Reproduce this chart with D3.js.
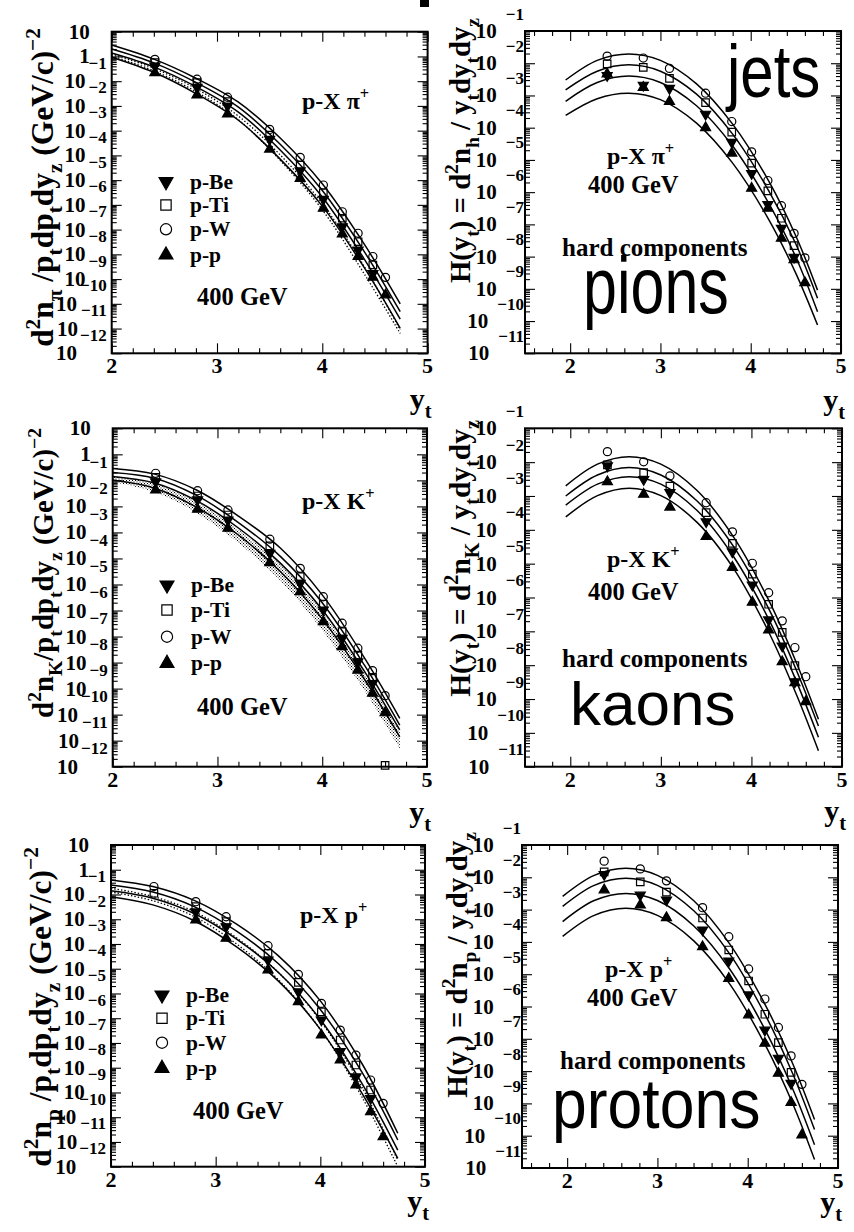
<!DOCTYPE html>
<html>
<head>
<meta charset="utf-8">
<script src="https://cdn.jsdelivr.net/npm/d3@7"></script>
<style>
  body { margin: 0; background: #fff; }
  text { font-family: "Liberation Serif", "Times New Roman", serif; font-weight: bold; fill: #000; }
  text.big { font-family: "Liberation Sans", Arial, sans-serif; font-weight: normal; }
</style>
</head>
<body>
<div id="chart"></div>
<script>
// y_t positions of the measured points (same in every panel)
const ytPoints = [2.41, 2.81, 3.10, 3.50, 3.79, 4.01, 4.19, 4.34, 4.48, 4.60]
const ytCurveLeft = [2.0, 2.4, 2.8, 3.2, 3.6, 4.0, 4.4, 4.74]
const ytCurveRight = [1.95, 2.3, 2.65, 3.0, 3.4, 3.8, 4.2, 4.5, 4.74]

const targetNames = ['p-Be', 'p-Ti', 'p-W', 'p-p']
const targetKeys = ['Be', 'Ti', 'W', 'p']
const xTickLabels = [2, 3, 4, 5]

// all values are log10 of the plotted quantity, null = no marker
// pions, spectra (left)
const pionSpecW = [-0.12, -0.92, -1.65, -2.95, -4.08, -5.20, -6.28, -7.15, -8.09, -8.93]
const pionSpecTi = [-0.25, -1.06, -1.83, -3.18, -4.39, -5.51, -6.54, -7.49, -8.43, null]
const pionSpecBe = [-0.39, -1.25, -2.00, -3.35, -4.62, -5.77, -6.88, -7.82, -8.77, null]
const pionSpecPP = [-0.66, -1.56, -2.33, -3.75, -4.93, -6.14, -7.18, -8.09, -8.93, -9.64]
const pionFitW = [0.46, -0.11, -0.88, -1.84, -3.30, -5.15, -7.60, -10.00]
const pionFitTi = [0.30, -0.26, -1.05, -2.04, -3.55, -5.42, -7.90, -10.32]
const pionFitBe = [0.14, -0.42, -1.22, -2.24, -3.78, -5.68, -8.20, -10.62]
const pionFitPP = [-0.03, -0.64, -1.50, -2.57, -4.15, -6.05, -8.55, -10.99]
const pionDot1 = [0.10, -0.48, -1.30, -2.40, -3.98, -5.95, -8.50, -11.05]
const pionDot2 = [0.02, -0.58, -1.42, -2.55, -4.20, -6.20, -8.80, -11.20]
// pions, hard components (right)
const pionHardW = [-1.78, -1.84, -2.16, -2.93, -3.81, -4.75, -5.64, -6.42, -7.28, -8.04]
const pionHardTi = [-2.02, -2.13, -2.47, -3.22, -4.14, -5.10, -5.96, -6.81, -7.66, null]
const pionHardBe = [-2.38, -2.68, -2.78, -3.58, -4.45, -5.42, -6.38, -7.12, -8.02, null]
const pionHardPP = [-2.33, -2.75, -3.19, -4.00, -4.79, -5.88, -6.50, -7.43, -8.10, -8.81]
const pionHardFitW = [-2.52, -1.91, -1.71, -1.91, -2.64, -3.89, -5.66, -7.36, -9.04]
const pionHardFitTi = [-2.83, -2.25, -2.05, -2.25, -2.96, -4.20, -5.96, -7.61, -9.29]
const pionHardFitBe = [-3.18, -2.60, -2.40, -2.60, -3.32, -4.57, -6.35, -8.02, -9.71]
const pionHardFitPP = [-3.62, -3.10, -2.93, -3.13, -3.86, -5.10, -6.85, -8.52, -10.12]

// kaons, spectra (left)
const kaonSpecW = [-0.73, -1.40, -2.14, -3.26, -4.38, -5.47, -6.49, -7.45, -8.31, -9.27]
const kaonSpecTi = [-0.88, -1.60, -2.33, -3.52, -4.70, -5.75, -6.81, -7.71, -8.57, -11.95]
const kaonSpecBe = [-1.05, -1.75, -2.52, -3.80, -4.95, -5.98, -7.07, -7.97, -8.80, null]
const kaonSpecPP = [-1.37, -2.11, -2.84, -4.16, -5.28, -6.43, -7.39, -8.29, -9.18, -9.93]
const kaonFitW = [-0.54, -0.76, -1.37, -2.37, -3.60, -5.40, -7.80, -10.14]
const kaonFitTi = [-0.70, -0.92, -1.58, -2.62, -3.92, -5.70, -8.08, -10.40]
const kaonFitBe = [-0.85, -1.10, -1.78, -2.83, -4.18, -5.97, -8.32, -10.59]
const kaonFitPP = [-0.99, -1.30, -2.03, -3.10, -4.50, -6.32, -8.62, -10.85]
const kaonBandTop = [-0.85, -1.12, -1.82, -2.90, -4.25, -6.05, -8.40, -10.65]
const kaonBandLow = [-1.05, -1.45, -2.25, -3.40, -4.85, -6.75, -9.05, -11.30]
// kaons, hard components (right)
const kaonHardW = [-1.69, -1.99, -2.41, -3.20, -4.06, -4.99, -5.86, -6.69, -7.48, -8.34]
const kaonHardTi = [-2.08, -2.31, -2.71, -3.49, -4.40, -5.31, -6.20, -7.03, -8.01, null]
const kaonHardBe = [-2.11, -2.51, -2.90, -3.76, -4.65, -5.63, -6.66, -7.43, -8.49, null]
const kaonHardPP = [-2.58, -2.95, -3.33, -4.20, -5.11, -6.14, -6.96, -7.90, -8.52, -9.08]
const kaonHardFitW = [-2.70, -2.06, -1.84, -2.06, -2.84, -4.20, -6.13, -7.95, -9.60]
const kaonHardFitTi = [-3.00, -2.38, -2.16, -2.38, -3.15, -4.48, -6.38, -8.17, -9.80]
const kaonHardFitBe = [-3.27, -2.65, -2.43, -2.65, -3.43, -4.78, -6.69, -8.50, -10.13]
const kaonHardFitPP = [-3.62, -2.99, -2.77, -2.99, -3.78, -5.13, -7.07, -8.89, -10.53]

// protons, spectra (left)
const protSpecW = [-0.68, -1.29, -1.90, -3.07, -4.23, -5.40, -6.48, -7.49, -8.50, -9.44]
const protSpecTi = [-0.95, -1.49, -2.10, -3.38, -4.55, -5.74, -6.88, -7.89, -8.90, null]
const protSpecBe = [null, -1.70, -2.30, -3.65, -4.93, -6.07, -7.35, -8.37, -9.24, null]
const protSpecPP = [null, -2.03, -2.77, -4.05, -5.33, -6.68, -7.69, -8.70, -9.78, -10.79]
const protFitW = [-0.41, -0.68, -1.25, -2.20, -3.48, -5.30, -7.85, -10.65]
const protFitTi = [-0.62, -0.90, -1.50, -2.48, -3.80, -5.65, -8.20, -10.92]
const protFitBe = [-0.85, -1.15, -1.78, -2.80, -4.15, -6.05, -8.65, -11.33]
const protFitPP = [-1.09, -1.42, -2.07, -3.12, -4.50, -6.45, -9.05, -11.66]
const protDot1 = [-0.75, -1.08, -1.70, -2.75, -4.15, -6.10, -8.80, -11.75]
const protDot2 = [-0.90, -1.25, -1.90, -3.00, -4.45, -6.45, -9.20, -12.00]
// protons, hard components (right)
const protHardW = [-1.50, -1.74, -2.11, -2.94, -3.84, -4.84, -5.77, -6.65, -7.53, -8.41]
const protHardTi = [-1.83, -2.14, -2.46, -3.26, -4.25, -5.21, -6.24, -7.12, -8.04, null]
const protHardBe = [-1.91, -2.55, -2.70, -3.63, -4.59, -5.64, -6.73, -7.60, -8.38, null]
const protHardPP = [-2.39, -2.86, -3.25, -4.15, -5.13, -6.26, -7.14, -8.07, -8.97, -9.98]
const protHardFitW = [-2.59, -1.94, -1.72, -1.94, -2.72, -4.06, -5.98, -7.78, -9.50]
const protHardFitTi = [-2.90, -2.25, -2.03, -2.25, -3.03, -4.37, -6.29, -8.09, -9.81]
const protHardFitBe = [-3.37, -2.72, -2.50, -2.72, -3.50, -4.84, -6.76, -8.56, -10.28]
const protHardFitPP = [-3.83, -3.18, -2.96, -3.18, -3.96, -5.30, -7.22, -9.02, -10.74]

// texts ([string, '' | 'sup' | 'sub'])
const titleSpec = h => [['d', ''], ['2', 'sup'], ['n', ''], [h, 'sub'], [h === 'K' ? '/p' : ' /p', ''], ['t', 'sub'],
  ['dp', ''], ['t', 'sub'], ['dy', ''], ['z', 'sub'], [' (GeV/c)', ''], ['\u22122', 'sup']]
const titleHard = h => [['H(y', ''], ['t', 'sub'], [') = d', ''], ['2', 'sup'], ['n', ''], [h, 'sub'], [' / y', ''],
  ['t', 'sub'], ['dy', ''], ['t', 'sub'], ['dy', ''], ['z', 'sub']]
const reaction = h => [['p-X ' + h, ''], ['+', 'sup']]
const beamLabel = '400 GeV'
const hardLabel = 'hard components'

const svg = d3.select('#chart').append('svg').attr('width', 854).attr('height', 1232)
svg.append('rect').attr('width', 854).attr('height', 1232).attr('fill', '#fff')
const pat = svg.append('defs').append('pattern').attr('id', 'dots')
  .attr('width', 3).attr('height', 3).attr('patternUnits', 'userSpaceOnUse')
pat.append('rect').attr('width', 1).attr('height', 1).attr('fill', '#000')
pat.append('rect').attr('x', 1.5).attr('y', 1.5).attr('width', 1).attr('height', 1).attr('fill', '#000')

// stray mark at the top of the picture
svg.append('rect').attr('x', 420).attr('y', 0).attr('width', 9).attr('height', 7).attr('fill', '#000')

const panels = [
  { frame: [111.7, 427.6, 31.7, 353.3], xdom: [2, 5], dec: [1, -12], side: 'left', ytY: 409,
    series: { Be: pionSpecBe, Ti: pionSpecTi, W: pionSpecW, p: pionSpecPP },
    fits: [pionFitW, pionFitTi, pionFitBe, pionFitPP], dotted: [pionDot1, pionDot2],
    title: titleSpec('\u03c0'), titlePos: [53, 28, 319],
    notes: [{ parts: reaction('\u03c0'), x: 302, y: 109, fs: 24 }, { parts: [[beamLabel, '']], x: 197, y: 305, fs: 24.5 }],
    legend: { x: 166, rows: [181.7, 205, 229.3, 255] } },
  { frame: [525, 841, 31, 353.3], xdom: [1.5, 5], dec: [-1, -11], side: 'right', ytY: 410,
    series: { Be: pionHardBe, Ti: pionHardTi, W: pionHardW, p: pionHardPP },
    fits: [pionHardFitW, pionHardFitTi, pionHardFitBe, pionHardFitPP],
    title: titleHard('h'), titlePos: [470, 18, 265],
    notes: [{ parts: reaction('\u03c0'), x: 607, y: 164, fs: 24 }, { parts: [[beamLabel, '']], x: 588, y: 193, fs: 24.5 },
      { parts: [[hardLabel, '']], x: 562, y: 256, fs: 25 }],
    big: [{ text: 'jets', x: 727, y: 97, fs: 60, sy: 1.25 }, { text: 'pions', x: 583, y: 313, fs: 61, sy: 1.3 }] },
  { frame: [112.7, 427, 428.3, 766.7], xdom: [2, 5], dec: [1, -12], side: 'left', ytY: 822,
    series: { Be: kaonSpecBe, Ti: kaonSpecTi, W: kaonSpecW, p: kaonSpecPP },
    fits: [kaonFitW, kaonFitTi, kaonFitBe, kaonFitPP], band: [kaonBandTop, kaonBandLow],
    title: titleSpec('K'), titlePos: [53, 428, 290],
    notes: [{ parts: reaction('K'), x: 302, y: 509, fs: 24 }, { parts: [[beamLabel, '']], x: 197, y: 715, fs: 24.5 }],
    legend: { x: 167, rows: [585, 610, 636.7, 663.3] } },
  { frame: [525, 842, 428.3, 766.7], xdom: [1.5, 5], dec: [-1, -11], side: 'right', ytY: 821,
    series: { Be: kaonHardBe, Ti: kaonHardTi, W: kaonHardW, p: kaonHardPP },
    fits: [kaonHardFitW, kaonHardFitTi, kaonHardFitBe, kaonHardFitPP],
    title: titleHard('K'), titlePos: [470, 420, 277],
    notes: [{ parts: reaction('K'), x: 607, y: 567, fs: 24 }, { parts: [[beamLabel, '']], x: 588, y: 600, fs: 24.5 },
      { parts: [[hardLabel, '']], x: 562, y: 667, fs: 25 }],
    big: [{ text: 'kaons', x: 570, y: 725, fs: 62, sy: 1.0 }] },
  { frame: [111, 425, 845, 1166.7], xdom: [2, 5], dec: [1, -12], side: 'left', ytY: 1211,
    series: { Be: protSpecBe, Ti: protSpecTi, W: protSpecW, p: protSpecPP },
    fits: [protFitW, protFitTi, protFitBe, protFitPP], dotted: [protDot1, protDot2],
    title: titleSpec('p'), titlePos: [51, 847, 320],
    notes: [{ parts: reaction('p'), x: 300, y: 923, fs: 24 }, { parts: [[beamLabel, '']], x: 193, y: 1119, fs: 24.5 }],
    legend: { x: 162, rows: [995, 1018.3, 1042.7, 1068.3] } },
  { frame: [522, 838, 845, 1168], xdom: [1.5, 5], dec: [-1, -11], side: 'right', ytY: 1212,
    series: { Be: protHardBe, Ti: protHardTi, W: protHardW, p: protHardPP },
    fits: [protHardFitW, protHardFitTi, protHardFitBe, protHardFitPP],
    title: titleHard('p'), titlePos: [467, 832, 266],
    notes: [{ parts: reaction('p'), x: 605, y: 977, fs: 24 }, { parts: [[beamLabel, '']], x: 587, y: 1006, fs: 24.5 },
      { parts: [[hardLabel, '']], x: 560, y: 1069, fs: 25 }],
    big: [{ text: 'protons', x: 552, y: 1128, fs: 62.5, sy: 1.12 }] }
]

// text with super/subscripts
function rich(sel, parts, fs) {
  let shift = 0
  parts.forEach(([s, m]) => {
    const target = m === 'sup' ? -0.42 * fs : m === 'sub' ? 0.3 * fs : 0
    sel.append('tspan').attr('dy', target - shift).attr('font-size', m ? fs * 0.68 : fs).text(s)
    shift = target
  })
  return sel
}

function markerPath(key, k) {
  if (key === 'W') return d3.symbol(d3.symbolCircle, 52 * k)()
  if (key === 'Ti') return d3.symbol(d3.symbolSquare, 56 * k)()
  return d3.symbol(d3.symbolTriangle, 44 * k)()
}
function drawMarker(g, key, cx, cy, k) {
  const open = key === 'W' || key === 'Ti'
  g.append('path').attr('d', markerPath(key, k))
    .attr('transform', `translate(${cx},${cy})` + (key === 'Be' ? ' rotate(180)' : ''))
    .attr('fill', open ? 'none' : '#000').attr('stroke', '#000').attr('stroke-width', 1.2)
}

function tickAxis(g, axis, tr) {
  g.append('g').attr('transform', tr).call(axis)
    .call(a => a.select('.domain').remove())
    .call(a => a.selectAll('line').attr('stroke-width', 1.1))
}

function drawPanel(p) {
  const [x0, x1, y0, y1] = p.frame
  const g = svg.append('g')
  const x = d3.scaleLinear().domain(p.xdom).range([x0, x1])
  const y = d3.scaleLog().domain([10 ** p.dec[0], 10 ** p.dec[1]]).range([y0, y1])
  const grid = p.side === 'left' ? ytCurveLeft : ytCurveRight

  // ticks (all pointing inside the frame)
  const xMinor = d3.range(Math.round(p.xdom[0] * 5), Math.round(p.xdom[1] * 5) + 1).map(i => i / 5)
    .filter(v => Math.abs(v - Math.round(v)) > 1e-6)
  const yMajor = d3.range(p.dec[1], p.dec[0] + 1).map(e => 10 ** e)
  const yMinor = []
  for (let e = p.dec[1]; e < p.dec[0]; e++) for (let m = 2; m <= 9; m++) yMinor.push(m * 10 ** e)
  const fmt = () => ''
  tickAxis(g, d3.axisBottom(x).tickValues(xTickLabels).tickSizeInner(-10).tickSizeOuter(0).tickFormat(fmt), `translate(0,${y1})`)
  tickAxis(g, d3.axisBottom(x).tickValues(xMinor).tickSizeInner(-5).tickSizeOuter(0).tickFormat(fmt), `translate(0,${y1})`)
  tickAxis(g, d3.axisTop(x).tickValues(xTickLabels).tickSizeInner(-10).tickSizeOuter(0).tickFormat(fmt), `translate(0,${y0})`)
  tickAxis(g, d3.axisTop(x).tickValues(xMinor).tickSizeInner(-5).tickSizeOuter(0).tickFormat(fmt), `translate(0,${y0})`)
  tickAxis(g, d3.axisLeft(y).tickValues(yMajor).tickSizeInner(-10).tickSizeOuter(0).tickFormat(fmt), `translate(${x0},0)`)
  tickAxis(g, d3.axisLeft(y).tickValues(yMinor).tickSizeInner(-5).tickSizeOuter(0).tickFormat(fmt), `translate(${x0},0)`)
  tickAxis(g, d3.axisRight(y).tickValues(yMajor).tickSizeInner(-10).tickSizeOuter(0).tickFormat(fmt), `translate(${x1},0)`)
  tickAxis(g, d3.axisRight(y).tickValues(yMinor).tickSizeInner(-5).tickSizeOuter(0).tickFormat(fmt), `translate(${x1},0)`)

  // x tick labels
  xTickLabels.forEach(v => {
    g.append('text').attr('x', x(v)).attr('y', y1 + 20).attr('text-anchor', 'middle').attr('font-size', 22).text(v)
  })
  // y tick labels: 10 with the exponent raised above and to the right
  for (let e = p.dec[0]; e >= p.dec[1]; e--) {
    const ty = y(10 ** e)
    if (e >= 0) {
      g.append('text').attr('x', x0 - 22).attr('y', ty + 7).attr('text-anchor', 'end').attr('font-size', 21).text(e === 1 ? '10' : '1')
      continue
    }
    const right = p.side === 'left' ? x0 - 5 : x0 - 1
    const ex = g.append('text').attr('x', right).attr('y', ty - (p.side === 'left' ? 12.5 : 11.5))
      .attr('text-anchor', 'end').attr('font-size', 17).text('\u2212' + (-e))
    const w = ex.node().getComputedTextLength()
    g.append('text').attr('x', right - w - (p.side === 'left' ? 3 : 9)).attr('y', ty + 7)
      .attr('text-anchor', 'end').attr('font-size', 21).text('10')
  }

  // axis titles
  const [bx, yTop, len] = p.titlePos
  const tg = g.append('g').attr('transform', `translate(${bx},${yTop}) rotate(-90)`)
  let t = rich(tg.append('text').attr('text-anchor', 'end'), p.title, 30)
  const fs = 30 * len / t.node().getComputedTextLength()
  t.remove()
  rich(tg.append('text').attr('text-anchor', 'end'), p.title, fs)
  const xt = g.append('text').attr('x', x1 + 4).attr('y', p.ytY).attr('text-anchor', 'end')
  rich(xt, [['y', ''], ['t', 'sub']], 30)

  // shaded band, dotted and solid curves
  const line = d3.line().x(d => x(d[0])).y(d => y(10 ** d[1])).curve(d3.curveCatmullRom)
  if (p.band) {
    const area = d3.area().x(d => x(d[0])).y0(d => y(10 ** d[2])).y1(d => y(10 ** d[1])).curve(d3.curveCatmullRom)
    g.append('path').attr('d', area(grid.map((v, i) => [v, p.band[0][i], p.band[1][i]]))).attr('fill', 'url(#dots)')
  }
  ;(p.dotted || []).forEach(c => {
    g.append('path').attr('d', line(grid.map((v, i) => [v, c[i]])))
      .attr('fill', 'none').attr('stroke', '#000').attr('stroke-width', 1.3).attr('stroke-dasharray', '1.4,2')
  })
  p.fits.forEach(c => {
    g.append('path').attr('d', line(grid.map((v, i) => [v, c[i]])))
      .attr('fill', 'none').attr('stroke', '#000').attr('stroke-width', 1.5)
  })

  // data points
  targetKeys.forEach(k => {
    ytPoints.forEach((v, i) => {
      const val = p.series[k][i]
      if (val !== null) drawMarker(g, k, x(v), y(10 ** val), 1)
    })
  })

  // frame
  g.append('rect').attr('x', x0).attr('y', y0).attr('width', x1 - x0).attr('height', y1 - y0)
    .attr('fill', 'none').attr('stroke', '#000').attr('stroke-width', 2)

  // legend
  if (p.legend) {
    targetKeys.forEach((k, i) => {
      drawMarker(g, k, p.legend.x, p.legend.rows[i], 1.9)
      g.append('text').attr('x', p.legend.x + 24).attr('y', p.legend.rows[i] + 7).attr('font-size', 21.5).text(targetNames[i])
    })
  }
  // annotations
  p.notes.forEach(n => rich(g.append('text').attr('x', n.x).attr('y', n.y), n.parts, n.fs))
  ;(p.big || []).forEach(b => {
    g.append('text').attr('class', 'big').attr('transform', `translate(${b.x},${b.y}) scale(1,${b.sy})`)
      .attr('font-size', b.fs).text(b.text)
  })
}

panels.forEach(drawPanel)
</script>
</body>
</html>
